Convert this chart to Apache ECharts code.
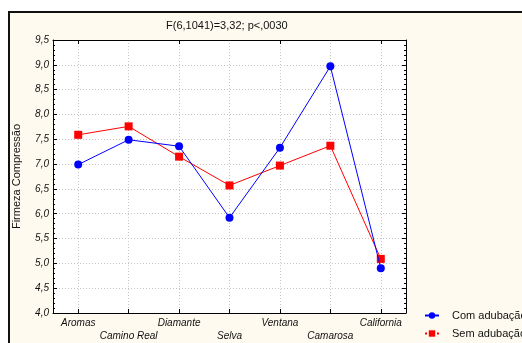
<!DOCTYPE html>
<html><head><meta charset="utf-8">
<script src="https://cdn.jsdelivr.net/npm/echarts@6/dist/echarts.min.js"></script>
<style>
html,body{margin:0;padding:0;background:#fff;}
#frame{position:absolute;left:8px;top:11px;width:600px;height:400px;border:2px solid #111;background:#fefaef;}
#c{position:absolute;left:0;top:0;width:522px;height:343px;}
</style></head>
<body>
<div id="frame"></div>
<div id="c"></div>
<script>
const categories = ['Aromas','Camino Real','Diamante','Selva','Ventana','Camarosa','California'];
const comAdubacao = [6.99, 7.49, 7.36, 5.92, 7.33, 8.97, 4.90];
const semAdubacao = [7.59, 7.76, 7.15, 6.57, 6.97, 7.37, 5.09];
const seriesNames = ['Com adubação','Sem adubação'];
const titleText = 'F(6,1041)=3,32; p<,0030';
const yName = 'Firmeza Compressão';

const font = 'Arial, "Liberation Sans", sans-serif';
const chart = echarts.init(document.getElementById('c'), null, {renderer:'canvas'});
const gridLine = {show:true, lineStyle:{color:'#c4c4c4', type:[1,2], width:1}};
const axisLine = {show:true, lineStyle:{color:'#000', width:1}};
const legendBase = {orient:'horizontal', left:419, itemWidth:14, itemHeight:8,
  textStyle:{fontFamily:font, fontSize:11, color:'#111', padding:[0,0,0,8]}};
chart.setOption({
  animation:false,
  backgroundColor:'transparent',
  title:{text:titleText, left:161, top:15, textStyle:{fontFamily:font, fontSize:11, fontWeight:'normal', color:'#111'}},
  grid:{left:53, top:40, width:353, height:273, show:true, backgroundColor:'#fff', borderWidth:0},
  legend:[
    Object.assign({top:305, data:[{name:seriesNames[0]}]}, legendBase),
    Object.assign({top:323, data:[{name:seriesNames[1], lineStyle:{type:[2,2]}}]}, legendBase)
  ],
  xAxis:[{
    type:'category', data:categories, position:'bottom', boundaryGap:true,
    axisLine:axisLine,
    axisTick:{show:true, inside:true, alignWithLabel:true, length:4, lineStyle:{color:'#000'}},
    splitLine:Object.assign({alignWithLabel:true}, gridLine),
    axisLabel:{interval:0, fontFamily:font, fontSize:10, fontStyle:'italic', color:'#111', margin:4, lineHeight:13,
      formatter:(v,i)=> i%2 ? '\n'+v : v}
  },{
    type:'category', data:categories, position:'top', boundaryGap:true,
    axisLine:axisLine,
    axisTick:{show:true, inside:true, alignWithLabel:true, length:4, lineStyle:{color:'#000'}},
    axisLabel:{show:false}, splitLine:{show:false}
  }],
  yAxis:[{
    type:'value', min:4, max:9.5, interval:0.5, position:'left',
    name:yName, nameLocation:'middle', nameGap:31, nameRotate:90,
    nameTextStyle:{fontFamily:font, fontSize:11, color:'#111'},
    axisLine:axisLine,
    axisTick:{show:true, inside:true, length:4, lineStyle:{color:'#000'}},
    minorTick:{show:true, splitNumber:5, length:2, lineStyle:{color:'#000'}},
    splitLine:gridLine,
    axisLabel:{fontFamily:font, fontSize:10, fontStyle:'italic', color:'#111', margin:4,
      formatter:v=>v.toFixed(1).replace('.',',')}
  },{
    type:'value', min:4, max:9.5, interval:0.5, position:'right',
    axisLine:axisLine,
    axisTick:{show:true, inside:true, length:4, lineStyle:{color:'#000'}},
    minorTick:{show:true, splitNumber:5, length:2, lineStyle:{color:'#000'}},
    splitLine:{show:false}, axisLabel:{show:false}
  }],
  series:[{
    name:seriesNames[0], type:'line', data:comAdubacao, symbol:'circle', symbolSize:8,
    itemStyle:{color:'#0000ff'}, lineStyle:{color:'#0000ff', width:1}, z:3
  },{
    name:seriesNames[1], type:'line', data:semAdubacao, symbol:'rect', symbolSize:8,
    itemStyle:{color:'#ff0000'}, lineStyle:{color:'#ff0000', width:1}, z:2
  }]
});
</script>
</body></html>
